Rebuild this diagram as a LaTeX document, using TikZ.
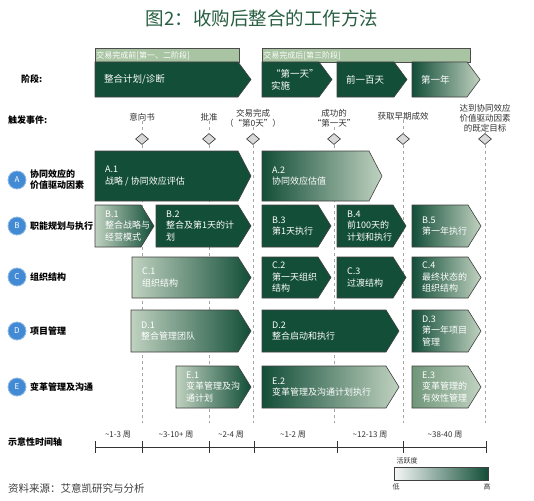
\documentclass[tikz,border=0pt]{standalone}
\usepackage{fontspec}
\setmainfont{Noto Sans CJK SC}
\usetikzlibrary{shapes.geometric}
\definecolor{dkg}{RGB}{18,78,56}
\definecolor{lg}{RGB}{192,210,192}
\definecolor{mg}{RGB}{112,150,122}
\definecolor{hdr}{RGB}{168,196,162}
\definecolor{blu}{RGB}{66,138,212}
\definecolor{ttl}{RGB}{40,95,65}
\tikzset{
  txt/.style={text=white, font=\fontsize{9}{11.5}\selectfont, align=left, inner sep=0pt},
  ptxt/.style={text=white, font=\fontsize{9.5}{12}\selectfont, align=left, inner sep=0pt},
  chevline/.style={draw=black!75, line width=0.6pt},
  dk/.style={fill=dkg},
  dl/.style={left color=dkg, middle color=dkg!60!lg, right color=lg},
  ld/.style={left color=lg, right color=dkg},
  ml/.style={left color=mg, right color=lg},
  hdrbox/.style={draw=black!70, line width=0.6pt, fill=hdr, anchor=north west, minimum height=14pt, inner sep=1pt, text=white, font=\fontsize{8}{9}\selectfont, align=left},
  dia/.style={diamond, draw=black!80, fill=black!15, line width=0.6pt, minimum width=13pt, minimum height=11pt, inner sep=0pt},
  vline/.style={draw=black!35, dashed, line width=0.6pt},
  evt/.style={font=\fontsize{8.5}{10}\selectfont, text=black!80, align=center, inner sep=0pt},
  lbl/.style={font=\bfseries\fontsize{9}{11}\selectfont, text=black, align=left, inner sep=0pt, anchor=west},
  circ/.style={circle, fill=blu, draw=blu!60!white, line width=0.8pt, minimum size=18pt, inner sep=0pt, text=white, font=\fontsize{8}{9}\selectfont},
  tl/.style={draw=black!80, line width=1pt},
  tlab/.style={font=\fontsize{8}{9}\selectfont, text=black!80, inner sep=0pt},
}
\newcommand\chev[7]{%
  \path[#6, chevline] (#2,#3) -- ({#4-13},#3) -- (#4,{(#3+#5)/2}) -- ({#4-13},#5) -- (#2,#5) -- cycle;
  \node[txt, anchor=west] (#1) at ({#2+10},{(#3+#5)/2}) {#7};
}
\newcommand\pchev[7]{%
  \path[#6, chevline] (#2,#3) -- ({#4-13},#3) -- (#4,{(#3+#5)/2}) -- ({#4-13},#5) -- (#2,#5) -- cycle;
  \node[ptxt, anchor=west] (#1) at ({#2+9},{(#3+#5)/2}) {#7};
}
\begin{document}
\begin{tikzpicture}[x=1pt, y=-1pt]
\useasboundingbox (0,0) rectangle (534,500);
\fill[white] (0,0) rectangle (534,500);

% title
\node[font=\fontsize{18.5}{21}\selectfont, text=ttl, inner sep=0pt] (title) at (262,18) {图2：收购后整合的工作方法};

% left labels
\node[lbl] (lphase) at (21,79) {阶段:};
\node[lbl] (ltrig) at (8,120) {触发事件:};
\node[lbl] (ltime) at (8,442) {示意性时间轴};

% phase headers
\node[hdrbox, minimum width=144pt, text width=142pt] (h1) at (95,48) {交易完成前[第一、二阶段]};
\node[hdrbox, minimum width=208pt, text width=206pt] (h2) at (262,48) {交易完成后[第三阶段]};

% phase arrows
\pchev{p1}{95}{62}{251}{97}{dk}{整合计划/诊断}
\pchev{p2}{262}{62}{332}{97}{dk}{“第一天”\\实施}
\pchev{p3}{337}{62}{407}{97}{dk}{前一百天}
\pchev{p4}{412}{62}{480}{97}{dl}{第一年}

% events
\node[evt] (e1) at (142,117) {意向书};
\node[evt] (e2) at (209,117) {批准};
\node[evt] (e3) at (253,118) {交易完成\\（“第0天”）};
\node[evt] (e4) at (334,118) {成功的\\“第一天”};
\node[evt] (e5) at (403,116) {获取早期成效};
\node[evt] (e6) at (485,118) {达到协同效应\\价值驱动因素\\的既定目标};

\node[dia] (d1) at (142,139) {};
\node[dia] (d2) at (209,139) {};
\node[dia] (d3) at (253,139) {};
\node[dia] (d4) at (334,139) {};
\node[dia] (d5) at (403,139) {};
\node[dia] (d6) at (485,139) {};

\coordinate (b1) at (142,423);
\coordinate (b2) at (209,423);
\coordinate (b3) at (253,423);
\coordinate (b4) at (334,423);
\coordinate (b5) at (403,423);
\coordinate (b6) at (485,423);

\foreach \i in {1,...,6}{
  \draw[vline] (e\i.south) -- (d\i.north);
  \draw[vline] (d\i.south) -- (b\i);
}

% row labels
\node[circ] (ca) at (17,180) {A};
\node[lbl] (la) at (30,180) {协同效应的\\价值驱动因素};
\node[circ] (cb) at (17,226) {B};
\node[lbl] (lb) at (30,226) {职能规划与执行};
\node[circ] (cc) at (17,277) {C};
\node[lbl] (lc) at (30,277) {组织结构};
\node[circ] (cd) at (17,331) {D};
\node[lbl] (ld) at (30,331) {项目管理};
\node[circ] (ce) at (17,387) {E};
\node[lbl] (le) at (30,387) {变革管理及沟通};

% row A
\chev{a1}{95}{151}{251}{201}{dk}{A.1\\战略 / 协同效应评估}
\chev{a2}{262}{151}{382}{201}{dl}{A.2\\协同效应估值}
% row B
\chev{bb1}{95}{205}{154}{247}{ld}{B.1\\整合战略与\\经营模式}
\chev{bb2}{156}{205}{251}{247}{dk}{B.2\\整合及第1天的计\\划}
\chev{bb3}{262}{205}{331}{247}{dk}{B.3\\第1天执行}
\chev{bb4}{337}{205}{406}{247}{dk}{B.4\\前100天的\\计划和执行}
\chev{bb5}{412}{205}{481}{247}{dl}{B.5\\第一年执行}
% row C
\chev{c1}{132}{257}{251}{298}{ld}{C.1\\组织结构}
\chev{c2}{262}{257}{331}{298}{dk}{C.2\\第一天组织\\结构}
\chev{c3}{337}{257}{406}{298}{dk}{C.3\\过渡结构}
\chev{c4}{412}{257}{481}{298}{dl}{C.4\\最终状态的\\组织结构}
% row D
\chev{dd1}{131}{310}{251}{352}{ld}{D.1\\整合管理团队}
\chev{dd2}{262}{310}{399}{352}{dk}{D.2\\整合启动和执行}
\chev{dd3}{412}{310}{481}{352}{dl}{D.3\\第一年项目\\管理}
% row E
\chev{ee1}{176}{366}{251}{408}{ld}{E.1\\变革管理及沟\\通计划}
\chev{ee2}{262}{366}{399}{408}{dl}{E.2\\变革管理及沟通计划执行}
\chev{ee3}{412}{366}{481}{408}{ml}{E.3\\变革管理的\\有效性管理}

% timeline
\coordinate (t0) at (95,447);
\coordinate (t1) at (142,447);
\coordinate (t2) at (209,447);
\coordinate (t3) at (254,447);
\coordinate (t4) at (337,447);
\coordinate (t5) at (403,447);
\coordinate (t6) at (486,447);
\draw[tl] (t0) -- (t6);
\foreach \i in {0,...,6}{
  \draw[tl] ([yshift=6pt]t\i) -- ([yshift=-6pt]t\i);
}
\node[tlab] (w1) at (118,435) {\textasciitilde 1-3 周};
\node[tlab] (w2) at (176,435) {\textasciitilde 3-10+ 周};
\node[tlab] (w3) at (231,435) {\textasciitilde 2-4 周};
\node[tlab] (w4) at (293,435) {\textasciitilde 1-2 周};
\node[tlab] (w5) at (370,435) {\textasciitilde 12-13 周};
\node[tlab] (w6) at (445,435) {\textasciitilde 38-40 周};

% legend
\node[tlab, font=\fontsize{7}{8}\selectfont] (lgt) at (407,461) {活跃度};
\path[left color=white!96!dkg, right color=dkg, draw=black!75, line width=0.6pt] (394,467) rectangle (488,480);
\node[tlab, font=\fontsize{7}{8}\selectfont] (lo) at (396,487) {低};
\node[tlab, font=\fontsize{7}{8}\selectfont] (hi) at (487,487) {高};

% source
\node[font=\fontsize{10.5}{12}\selectfont, text=black!75, anchor=west, inner sep=0pt] (src) at (8,488) {资料来源：艾意凯研究与分析};
\end{tikzpicture}
\end{document}
